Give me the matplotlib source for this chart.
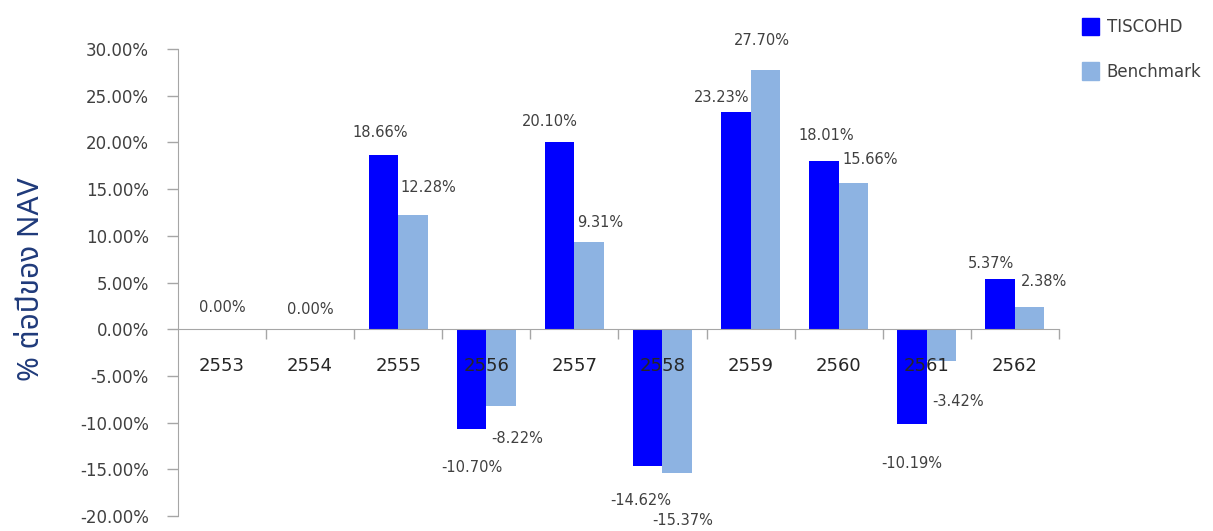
import numpy as np
import matplotlib
matplotlib.use("Agg")
import matplotlib.pyplot as plt
from matplotlib import font_manager
from matplotlib.ft2font import FT2Font
from matplotlib.patches import Patch
from matplotlib.ticker import FuncFormatter

# data
years = ["2553", "2554", "2555", "2556", "2557", "2558", "2559", "2560", "2561", "2562"]
tiscohd = [0.00, 0.00, 18.66, -10.70, 20.10, -14.62, 23.23, 18.01, -10.19, 5.37]
benchmark = [None, None, 12.28, -8.22, 9.31, -15.37, 27.70, 15.66, -3.42, 2.38]

# label nudges in pixels (dx, dy) from bar end, picked by eye
tisco_off = [(15, 22), (15, 20), (-3, 22), (0, -38), (-10, 20), (-7, -35), (-14, 15), (2, 26), (0, -39), (-9, 16)]
bench_off = [None, None, (15, 27), (16, -32), (11, 20), (5, -48), (-3, 30), (17, 23), (17, -40), (14, 26)]

BLUE = "#0000FF"
LIGHT = "#8DB3E2"
GREY = "#404040"


def find_thai_font():
    # first installed font that actually has Thai glyphs, preferring a few known ones
    found = []
    for f in font_manager.fontManager.ttflist:
        try:
            cmap = FT2Font(f.fname).get_charmap()
        except Exception:
            continue
        if 0x0E15 in cmap and 0x0E1B in cmap:
            found.append(f.name)
    for pref in ["Tahoma", "Leelawadee UI", "Noto Sans Thai", "Noto Sans Thai UI", "Loma", "Garuda"]:
        if pref in found:
            return pref
    return found[0] if found else None


thai = find_thai_font()
base = "DejaVu Sans"
fams = [thai, base] if thai else [base]

plt.rcParams["font.family"] = [base]

fig = plt.figure(figsize=(12.13, 5.31), dpi=100)
ax = fig.add_axes([0.1467, 0.028, 0.873 - 0.1467, 0.9077 - 0.028])
ax.set_axisbelow(False)

x = np.arange(len(years))
w = 0.335
bx = np.array([b if b is not None else 0 for b in benchmark])
ax.bar(x - w / 2, tiscohd, width=w, color=BLUE, zorder=1)
ax.bar(x + w / 2, bx, width=w, color=LIGHT, zorder=1)

ax.set_xlim(-0.5, len(years) - 0.5)
ax.set_ylim(-20, 30)
ax.set_yticks(np.arange(-20, 31, 5))
ax.yaxis.set_major_formatter(FuncFormatter(lambda v, p: f"{v:.2f}%"))

for s in ["top", "right"]:
    ax.spines[s].set_visible(False)
ax.spines["left"].set_color("#A6A6A6")
ax.spines["bottom"].set_color("#A6A6A6")
ax.spines["bottom"].set_position(("data", 0))

ax.tick_params(axis="y", colors="#A6A6A6", length=8, width=1, pad=13,
               labelcolor=GREY, labelsize=12)
ax.set_xticks(x)
ax.set_xticklabels(years)
ax.set_xticks(np.arange(0.5, len(years), 1.0), minor=True)
ax.tick_params(axis="x", which="major", length=0, pad=20, labelcolor="#262626", labelsize=13)
ax.tick_params(axis="x", which="minor", length=7, width=1, color="#A6A6A6")

# value labels
for i, v in enumerate(tiscohd):
    dx, dy = tisco_off[i]
    ax.annotate(f"{v:.2f}%", (x[i] - w / 2, v), xytext=(dx, dy), textcoords="offset pixels",
                ha="center", va="center", fontsize=10.5, color=GREY, zorder=4)
for i, v in enumerate(benchmark):
    if v is None:
        continue
    dx, dy = bench_off[i]
    ax.annotate(f"{v:.2f}%", (x[i] + w / 2, v), xytext=(dx, dy), textcoords="offset pixels",
                ha="center", va="center", fontsize=10.5, color=GREY, zorder=4)

fig.text(0.026, 0.475, "% ต่อปีของ NAV", rotation=90, ha="center", va="center",
         fontsize=21.5, fontweight="bold", color="#1F3A7A", family=fams)

handles = [Patch(color=BLUE, label="TISCOHD"), Patch(color=LIGHT, label="Benchmark")]
fig.legend(handles=handles, loc="upper left", bbox_to_anchor=(0.88, 0.995), frameon=False,
           handlelength=1.0, handleheight=1.2, handletextpad=0.45, labelspacing=1.6,
           fontsize=12, labelcolor=GREY)

plt.savefig("out.png", dpi=100)
